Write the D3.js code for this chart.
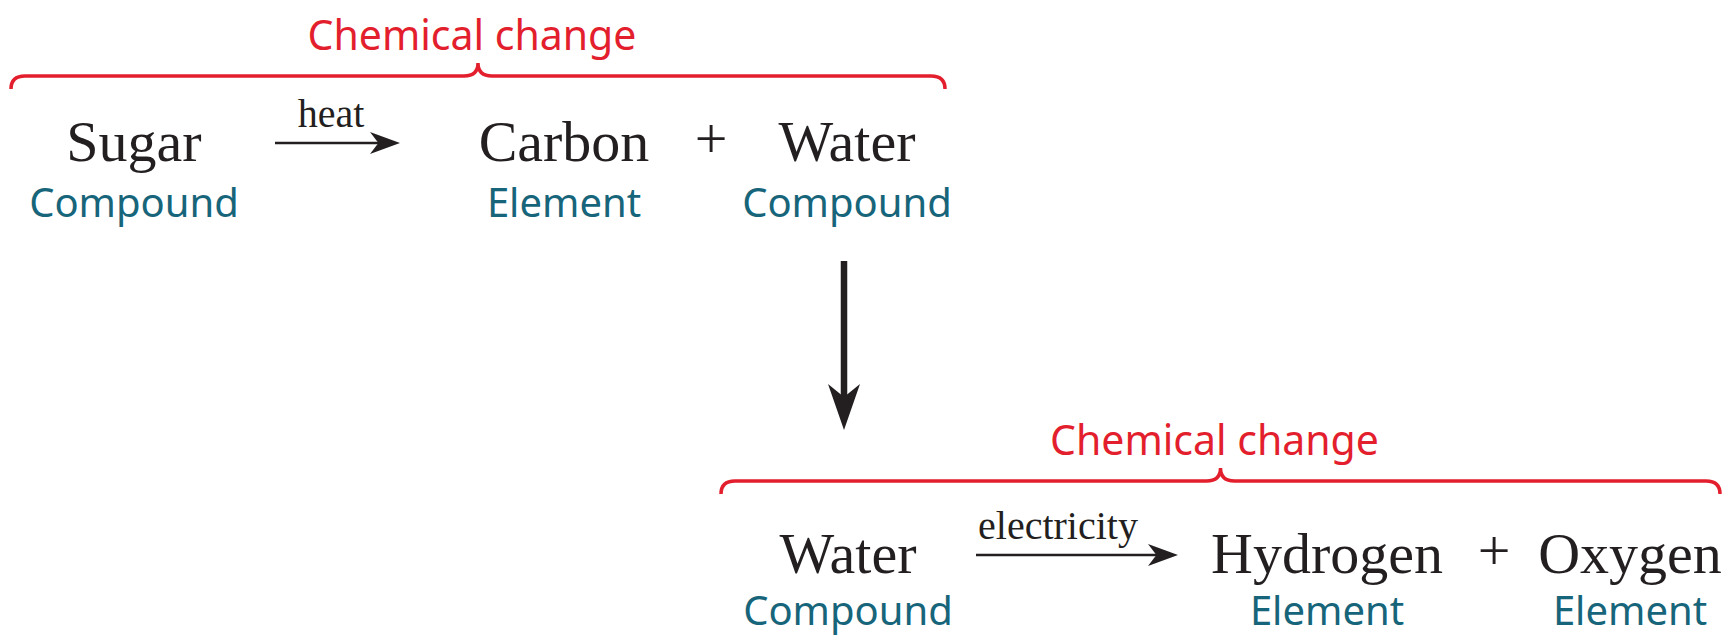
<!DOCTYPE html>
<html>
<head lang="en">
    <meta charset="UTF-8">
    <title>Chemical change</title>
    <style>
        body { margin: 0; background: #fff; }
        .term { font-family: "Liberation Serif", serif; fill: #231f20; }
        .kind { font-family: "Noto Sans", sans-serif; fill: #17657a; }
        .change { font-family: "Noto Sans", sans-serif; fill: #e31e2d; }
        .brace { fill: none; stroke: #e31e2d; stroke-width: 3.5; }
    </style>
</head>
<body>
<svg width="1727" height="638"></svg>

<script src="https://cdn.jsdelivr.net/npm/d3@7"></script>
<script>
    var changeLabel = "Chemical change";
    var topTerms = ["Sugar", "Carbon", "Water"];
    var topKinds = ["Compound", "Element", "Compound"];
    var topCondition = "heat";
    var bottomTerms = ["Water", "Hydrogen", "Oxygen"];
    var bottomKinds = ["Compound", "Element", "Element"];
    var bottomCondition = "electricity";

    var svg = d3.select("svg");

    // each reaction row: where its columns sit
    var rows = [
        {terms: topTerms, kinds: topKinds, cond: topCondition,
         x: d3.scaleOrdinal().domain([0, 1, 2]).range([134, 564, 847]),
         plus: 711, arrow: [275, 400], condX: 331, y: 161, kindDy: 56, brace: [11, 945, 76]},
        {terms: bottomTerms, kinds: bottomKinds, cond: bottomCondition,
         x: d3.scaleOrdinal().domain([0, 1, 2]).range([848, 1327, 1630]),
         plus: 1494, arrow: [976, 1178], condX: 1058, y: 573, kindDy: 52, brace: [721, 1720, 481]}
    ];

    function bracePath(x0, x1, y) {
        var cx = (x0 + x1) / 2, r = 14;
        return "M" + x0 + "," + (y + 13) +
            " Q" + x0 + "," + y + " " + (x0 + r) + "," + y +
            " L" + (cx - r) + "," + y +
            " Q" + cx + "," + y + " " + cx + "," + (y - 13) +
            " Q" + cx + "," + y + " " + (cx + r) + "," + y +
            " L" + (x1 - r) + "," + y +
            " Q" + x1 + "," + y + " " + x1 + "," + (y + 13);
    }

    function headPath(len, half) {
        // arrow head pointing right, tip at 0,0
        return "M0,0 L" + (-len) + "," + (-half) + " L" + (-len * 0.72) + ",0 L" + (-len) + "," + half + "Z";
    }

    rows.forEach(function (row) {
        var g = svg.append("g");

        g.append("path")
            .attr("class", "brace")
            .attr("d", bracePath(row.brace[0], row.brace[1], row.brace[2]));

        g.append("text")
            .attr("class", "change")
            .attr("x", (row.brace[0] + row.brace[1]) / 2 - 6)
            .attr("y", row.brace[2] - 26)
            .attr("text-anchor", "middle")
            .attr("font-size", 41)
            .text(changeLabel);

        g.selectAll("text.term")
            .data(row.terms)
            .enter()
            .append("text")
            .attr("class", "term")
            .attr("x", function (d, i) { return row.x(i); })
            .attr("y", row.y)
            .attr("text-anchor", "middle")
            .attr("font-size", 58)
            .text(function (d) { return d; });

        g.selectAll("text.kind")
            .data(row.kinds)
            .enter()
            .append("text")
            .attr("class", "kind")
            .attr("x", function (d, i) { return row.x(i); })
            .attr("y", row.y + row.kindDy)
            .attr("text-anchor", "middle")
            .attr("font-size", 40)
            .text(function (d) { return d; });

        g.append("text")
            .attr("class", "term")
            .attr("x", row.plus)
            .attr("y", row.y - 3)
            .attr("text-anchor", "middle")
            .attr("font-size", 58)
            .text("+");

        var ay = row.y - 18;
        g.append("line")
            .attr("x1", row.arrow[0]).attr("x2", row.arrow[1] - 20)
            .attr("y1", ay).attr("y2", ay)
            .attr("stroke", "#231f20").attr("stroke-width", 2.5);
        g.append("path")
            .attr("transform", "translate(" + row.arrow[1] + "," + ay + ")")
            .attr("d", headPath(30, 11))
            .attr("fill", "#231f20");

        g.append("text")
            .attr("class", "term")
            .attr("x", row.condX)
            .attr("y", ay - 16)
            .attr("text-anchor", "middle")
            .attr("font-size", 40)
            .text(row.cond);
    });

    // the water from the first reaction feeds the second
    var vx = 844, vy0 = 261, vy1 = 430;
    svg.append("line")
        .attr("x1", vx).attr("x2", vx)
        .attr("y1", vy0).attr("y2", vy1 - 30)
        .attr("stroke", "#231f20").attr("stroke-width", 6.5);
    svg.append("path")
        .attr("transform", "translate(" + vx + "," + vy1 + ") rotate(90)")
        .attr("d", headPath(46, 16))
        .attr("fill", "#231f20");
</script>
</body>
</html>
